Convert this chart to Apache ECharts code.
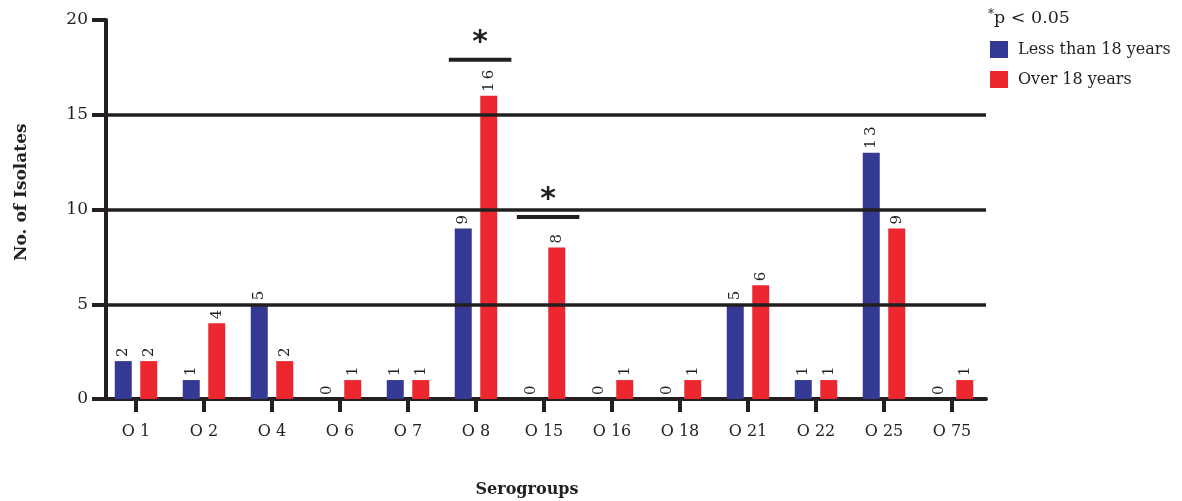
<!DOCTYPE html>
<html>
<head>
<meta charset="utf-8">
<script src="https://cdn.jsdelivr.net/npm/echarts@6/dist/echarts.min.js"></script>
<style>
html,body{margin:0;padding:0;background:#fff;}
#chart{width:1182px;height:501px;}
</style>
</head>
<body>
<div id="chart"></div>
<script>
var categories = ['O 1','O 2','O 4','O 6','O 7','O 8','O 15','O 16','O 18','O 21','O 22','O 25','O 75'];
var lessThan18 = [2,1,5,0,1,9,0,0,0,5,1,13,0];
var over18 = [2,4,2,1,1,16,8,1,1,6,1,9,1];
var yTicks = [0,5,10,15,20];
var gridLevels = [5,10,15];
var sigCategories = ['O 8','O 15'];
var sigLevels = [17.9, 9.6];

var BLUE = '#343a94';
var RED = '#ec2730';
var INK = '#231f20';
var FONT = '"DejaVu Serif", "Liberation Serif", serif';

var chart = echarts.init(document.getElementById('chart'), null, {renderer:'canvas'});

function spaced(v){ return String(v).split('').join('\u2009'); }

var valueLabel = {
  show: true,
  position: 'top',
  rotate: 90,
  align: 'left',
  verticalAlign: 'middle',
  distance: 4,
  fontFamily: FONT,
  fontSize: 15,
  color: INK,
  formatter: function(p){ return spaced(p.value); }
};

chart.setOption({
  animation: false,
  backgroundColor: '#fff',
  grid: { left: 102, right: 196, top: 20, bottom: 102, containLabel: false },
  legend: {
    show: true,
    orient: 'vertical',
    left: 990,
    top: 41,
    padding: 0,
    itemWidth: 18,
    itemHeight: 17,
    itemGap: 13,
    icon: 'rect',
    textStyle: { fontFamily: FONT, fontSize: 16, color: INK, padding: [0,0,0,5] },
    data: ['Less than 18 years','Over 18 years']
  },
  graphic: [
    { type: 'text', left: 988, top: 9,
      style: { text: '{s|*}{t|p < 0.05}', fill: INK,
        rich: { s: { fontFamily: FONT, fontSize: 12, verticalAlign: 'top', padding:[0,0,6,0], fill: INK },
                t: { fontFamily: FONT, fontSize: 17.5, fill: INK } } } },
    { type: 'text', x: 527, y: 482,
      style: { text: 'Serogroups', font: 'bold 16px ' + FONT, fill: INK, align: 'center' } },
    { type: 'text', x: 13, y: 261, rotation: Math.PI/2,
      style: { text: 'No. of Isolates', font: 'bold 17px ' + FONT, fill: INK } }
  ],
  xAxis: {
    type: 'category',
    data: categories,
    boundaryGap: true,
    axisLine: { show: true, lineStyle: { color: INK, width: 4 } },
    axisTick: { show: true, alignWithLabel: true, length: 13, lineStyle: { color: INK, width: 4 } },
    axisLabel: { fontFamily: FONT, fontSize: 16, color: INK, margin: 25 },
    splitLine: { show: false }
  },
  yAxis: {
    type: 'value',
    min: 0, max: 20, interval: 5,
    offset: -4,
    axisLine: { show: true, lineStyle: { color: INK, width: 4 } },
    axisTick: { show: true, length: 14, inside: false, lineStyle: { color: INK, width: 4 } },
    axisLabel: { fontFamily: FONT, fontSize: 17, color: INK, margin: 18,
      formatter: function(v){ return yTicks.indexOf(v) >= 0 ? String(v) : ''; } },
    splitLine: { show: false }
  },
  series: [
    { name: 'Less than 18 years', type: 'bar', data: lessThan18, barWidth: 17, barGap: '50%',
      itemStyle: { color: BLUE }, label: valueLabel, z: 3 },
    { name: 'Over 18 years', type: 'bar', data: over18, barWidth: 17, barGap: '50%',
      itemStyle: { color: RED }, label: valueLabel, z: 3 },
    { name: 'sig', type: 'custom', z: 1, silent: true,
      data: sigCategories.map(function(c,i){ return [categories.indexOf(c), sigLevels[i]]; }),
      markLine: {
        silent: true, symbol: 'none', animation: false,
        label: { show: false },
        lineStyle: { color: INK, width: 3.5, type: 'solid' },
        data: gridLevels.map(function(v){ return { yAxis: v }; })
      },
      renderItem: function(params, api){
        var p = api.coord([api.value(0), api.value(1)]);
        var bw = api.size([1,0])[0];
        var cx = p[0] + bw*0.06;
        var hw = bw*0.46;
        return { type: 'group', children: [
          { type: 'line', shape: { x1: cx-hw, y1: p[1], x2: cx+hw, y2: p[1] },
            style: { stroke: INK, lineWidth: 4 } },
          { type: 'text', x: cx, y: p[1]-2,
            style: { text: '*', font: 'bold 30px "DejaVu Sans", sans-serif', fill: INK, align: 'center', verticalAlign: 'bottom' } }
        ]};
      }
    }
  ]
});
</script>
</body>
</html>
